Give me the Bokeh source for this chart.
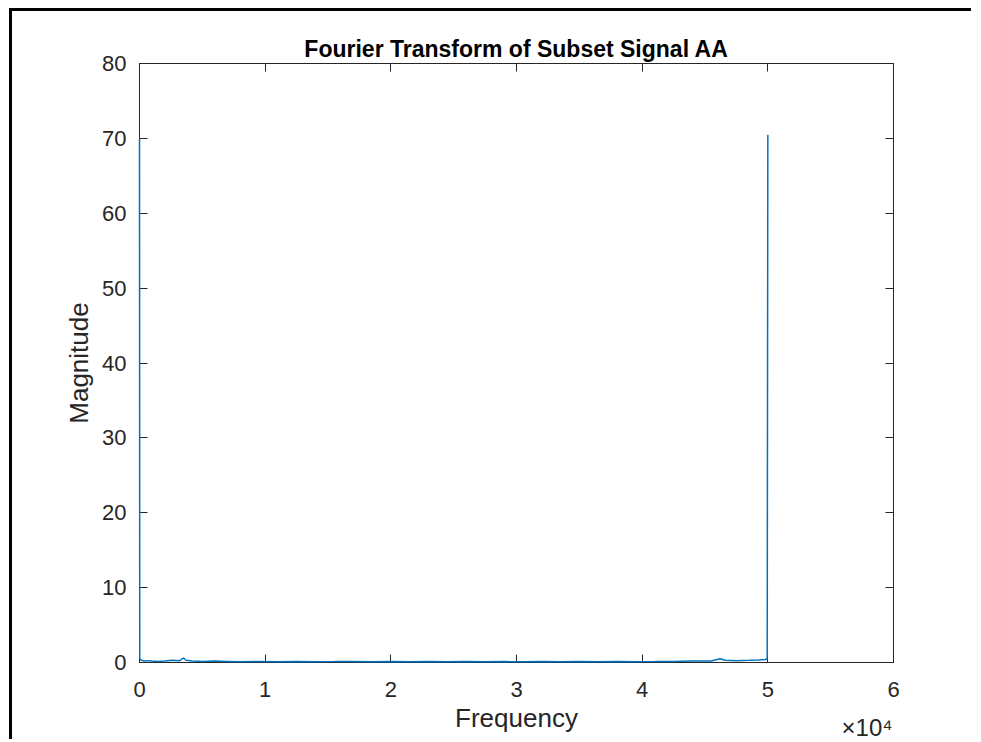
from bokeh.plotting import figure
from bokeh.models import Range1d, LinearAxis, FixedTicker
from bokeh.embed import file_html
from bokeh.resources import INLINE

# Frequency (Hz) and magnitude of the spectrum
freq = [0, 20, 150, 400, 700, 1000, 1500, 2000, 2600, 3200, 3500, 3700, 4200,
        5000, 6000, 7000, 8000, 9500, 11000, 12500, 14000, 15500, 17000,
        18500, 20000, 21500, 23000, 24500, 26000, 27500, 29000, 30500,
        32000, 33500, 35000, 36500, 38000, 39500, 41000, 42500, 44000,
        45500, 46200, 46600, 47500, 48500, 49300, 49800, 49950, 50000]
magnitude = [70.0, 0.5, 0.3, 0.2, 0.25, 0.2, 0.15, 0.2, 0.3, 0.25, 0.6, 0.3, 0.2,
             0.15, 0.2, 0.15, 0.1, 0.15, 0.1, 0.15, 0.1, 0.12, 0.15,
             0.1, 0.15, 0.1, 0.12, 0.1, 0.15, 0.1, 0.12, 0.1,
             0.15, 0.1, 0.12, 0.1, 0.15, 0.1, 0.12, 0.15, 0.2,
             0.2, 0.5, 0.3, 0.25, 0.3, 0.35, 0.4, 0.5, 70.5]

x_ticks = [0, 10000, 20000, 30000, 40000, 50000, 60000]
x_tick_labels = ["0", "1", "2", "3", "4", "5", "6"]
y_ticks = [0, 10, 20, 30, 40, 50, 60, 70, 80]
exponent_text = "×10⁴"
exponent_at = 57900

TXT = "#262626"
FONT = "Liberation Sans"

p = figure(width=962, height=731, output_backend="svg", toolbar_location=None,
           x_range=Range1d(0, 60000), y_range=Range1d(0, 80),
           min_border_left=127, min_border_right=81, min_border_top=52,
           min_border_bottom=80, x_axis_location=None, y_axis_location=None)
p.styles = {"border-top": "3px solid black", "border-left": "3px solid black",
            "margin-top": "8px", "margin-left": "9px"}

p.title.text = "Fourier Transform of Subset Signal AA"
p.title.align = "center"
p.title.text_font = FONT
p.title.text_font_size = "23px"
p.title.text_font_style = "bold"
p.title.text_color = "#000000"
p.title.standoff = 4

p.grid.visible = False
p.outline_line_color = TXT
p.outline_line_width = 1
p.background_fill_color = "white"
p.border_fill_color = "white"

def style_axis(ax):
    ax.axis_line_color = TXT
    ax.major_tick_line_color = TXT
    ax.major_tick_in = 8
    ax.major_tick_out = 0
    ax.minor_tick_line_color = None
    ax.major_label_text_font = FONT
    ax.major_label_text_font_size = "22px"
    ax.major_label_text_color = TXT
    ax.axis_label_text_font = FONT
    ax.axis_label_text_font_size = "26px"
    ax.axis_label_text_font_style = "normal"
    ax.axis_label_text_color = TXT

# bottom axis: tick numbers only
xb = LinearAxis(ticker=FixedTicker(ticks=x_ticks))
xb.major_label_overrides = {t: l for t, l in zip(x_ticks, x_tick_labels)}
style_axis(xb)
xb.major_label_standoff = 19
p.add_layout(xb, "below")

# second bottom axis: the "x10^4" multiplier and the axis title
xe = LinearAxis(ticker=FixedTicker(ticks=[exponent_at]), axis_label="Frequency")
xe.major_label_overrides = {exponent_at: exponent_text}
style_axis(xe)
xe.major_label_text_font_size = "24px"
xe.axis_line_color = None
xe.major_tick_line_color = None
xe.major_tick_in = 0
xe.major_label_standoff = 14
xe.axis_label_standoff = -41
p.add_layout(xe, "below")

yl = LinearAxis(ticker=FixedTicker(ticks=y_ticks), axis_label="Magnitude")
style_axis(yl)
yl.major_label_standoff = 13
yl.axis_label_standoff = 5
p.add_layout(yl, "left")

xt = LinearAxis(ticker=FixedTicker(ticks=x_ticks))
style_axis(xt)
xt.major_label_overrides = {t: "" for t in x_ticks}
xt.major_label_standoff = 0
p.add_layout(xt, "above")

yr = LinearAxis(ticker=FixedTicker(ticks=y_ticks))
style_axis(yr)
yr.major_label_overrides = {t: "" for t in y_ticks}
yr.major_label_standoff = 0
p.add_layout(yr, "right")

p.line(freq, magnitude, line_color="#0072BD", line_width=1.5, level="overlay")

open("out.html", "w").write(file_html(p, INLINE))
